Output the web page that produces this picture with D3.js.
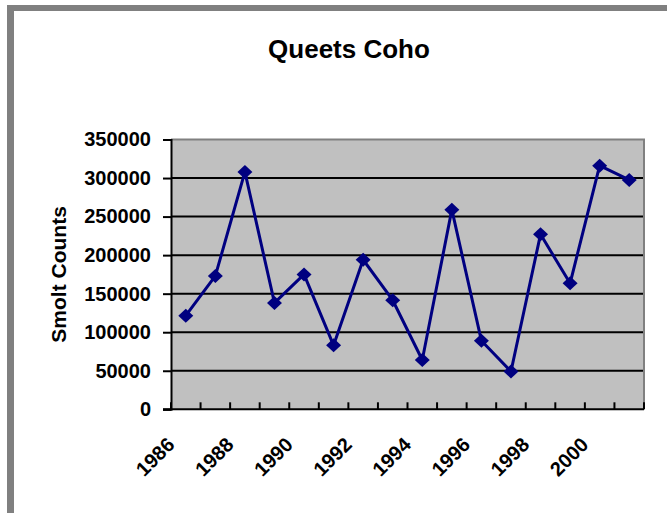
<!DOCTYPE html>
<html>
<head>
<meta charset="utf-8">
<script src="https://cdn.jsdelivr.net/npm/d3@7"></script>
<style>
  html, body { margin: 0; padding: 0; background: #fff; }
  svg { display: block; }
  text { font-family: "Liberation Sans", Arial, sans-serif; font-weight: bold; fill: #000; }
</style>
</head>
<body>
<svg id="chart" width="667" height="513"></svg>
<script>
// ---- data ----
const years = [1986, 1987, 1988, 1989, 1990, 1991, 1992, 1993, 1994, 1995, 1996, 1997, 1998, 1999, 2000, 2001];
const smoltCounts = [121500, 173000, 308000, 138000, 175000, 83000, 194000, 141500, 64000, 259000, 89000, 49000, 227000, 163500, 316000, 297500];
const yTicks = [0, 50000, 100000, 150000, 200000, 250000, 300000, 350000];
const xTickLabels = ["1986", "1988", "1990", "1992", "1994", "1996", "1998", "2000"];
const chartTitle = "Queets Coho";
const yAxisTitle = "Smolt Counts";

// ---- layout ----
const W = 667, H = 513;
const plot = { left: 171, right: 644, top: 139.5, bottom: 409.3 };

const svg = d3.select("#chart");

// outer frame (gray left & top edges)
svg.append("rect").attr("x", 7).attr("y", 5).attr("width", 7).attr("height", H - 5).attr("fill", "#808080");
svg.append("rect").attr("x", 7).attr("y", 5).attr("width", W - 7).attr("height", 6).attr("fill", "#808080");

const x = d3.scaleBand().domain(years).range([plot.left, plot.right]).padding(0);
const y = d3.scaleLinear().domain([0, 350000]).range([plot.bottom, plot.top]);

// plot background
svg.append("rect")
  .attr("x", plot.left).attr("y", plot.top)
  .attr("width", plot.right - plot.left).attr("height", plot.bottom - plot.top)
  .attr("fill", "#C0C0C0");

// gridlines
svg.append("g").selectAll("line")
  .data(yTicks.filter(d => d > 0 && d < 350000))
  .join("line")
  .attr("x1", plot.left).attr("x2", plot.right)
  .attr("y1", d => y(d)).attr("y2", d => y(d))
  .attr("stroke", "#000").attr("stroke-width", 2);

// plot border top & right (gray)
svg.append("path")
  .attr("d", `M${plot.left},${plot.top}H${plot.right}V${plot.bottom}`)
  .attr("fill", "none").attr("stroke", "#808080").attr("stroke-width", 2);

// y axis
const yAxis = svg.append("g")
  .attr("transform", `translate(${plot.left},0)`)
  .call(d3.axisLeft(y).tickValues(yTicks).tickSize(8).tickPadding(12).tickFormat(d3.format("d")));
yAxis.select(".domain").attr("stroke", "#000").attr("stroke-width", 2);
yAxis.selectAll(".tick line").attr("stroke", "#000").attr("stroke-width", 2);
yAxis.selectAll(".tick text")
  .style("font-family", '"Liberation Sans", Arial, sans-serif')
  .style("font-weight", "bold").style("font-size", "20px").attr("fill", "#000");

// x axis line
svg.append("line")
  .attr("x1", plot.left - 8).attr("x2", plot.right)
  .attr("y1", plot.bottom).attr("y2", plot.bottom)
  .attr("stroke", "#000").attr("stroke-width", 2);

// x ticks at band boundaries (pointing up into plot)
const boundaries = d3.range(years.length + 1).map(i => x(years[0]) + i * x.step());
svg.append("g").selectAll("line")
  .data(boundaries)
  .join("line")
  .attr("x1", d => d).attr("x2", d => d)
  .attr("y1", plot.bottom).attr("y2", plot.bottom - 7)
  .attr("stroke", "#000").attr("stroke-width", 2);

// x labels rotated
svg.append("g").selectAll("text")
  .data(xTickLabels)
  .join("text")
  .attr("transform", d => `translate(${x(+d) + x.bandwidth() / 2 - 10},446) rotate(-45)`)
  .attr("text-anchor", "end")
  .style("font-size", "20px")
  .text(d => d);

// line series
const pts = years.map((yr, i) => [x(yr) + x.bandwidth() / 2, y(smoltCounts[i])]);
svg.append("path")
  .attr("d", d3.line()(pts))
  .attr("fill", "none").attr("stroke", "#000080").attr("stroke-width", 3)
  .attr("stroke-linejoin", "round");

// diamond markers
svg.append("g").selectAll("path")
  .data(pts)
  .join("path")
  .attr("d", d => `M${d[0]},${d[1] - 7}L${d[0] + 7.5},${d[1]}L${d[0]},${d[1] + 7}L${d[0] - 7.5},${d[1]}Z`)
  .attr("fill", "#000080");

// title
svg.append("text")
  .attr("x", 349).attr("y", 58.3)
  .attr("text-anchor", "middle")
  .style("font-size", "26px")
  .text(chartTitle);

// y-axis title
svg.append("text")
  .attr("transform", `translate(66,${(plot.top + plot.bottom) / 2}) rotate(-90)`)
  .attr("text-anchor", "middle")
  .style("font-size", "21px")
  .text(yAxisTitle);
</script>
</body>
</html>
